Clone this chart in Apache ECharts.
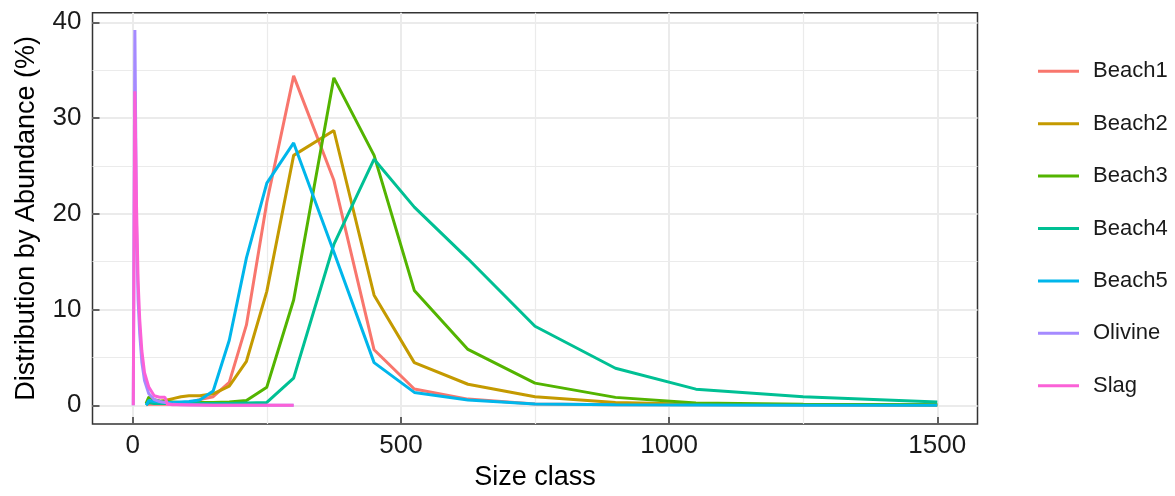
<!DOCTYPE html>
<html>
	<head>
		<meta charset="utf-8">
		<title>Size class distribution</title>
		<script src="https://cdn.jsdelivr.net/npm/echarts@6/dist/echarts.min.js"></script>
		<style>
			html, body { margin: 0; padding: 0; background: #fff; }
		</style>
	</head>
	<body>
		<div id="box" style="width: 1175px;height: 496px;"></div>
		<script>
			// size classes
			var beachSizes = [25, 30, 40, 50, 60, 75, 90, 105, 125, 150, 180, 212, 250, 300, 375, 450, 525, 625, 750, 900, 1050, 1250, 1500]
			var fineSizes = [1, 4, 7, 10, 13, 17, 22, 30, 40, 50, 60, 65, 75, 90, 105, 125, 150, 180, 212, 250, 300]

			// abundance (%)
			var beach1 = [0.05, 0.1, 0.1, 0.1, 0.1, 0.15, 0.2, 0.3, 0.6, 0.9, 2.4, 8.4, 21.2, 34.4, 23.5, 5.8, 1.7, 0.65, 0.15, 0.07, 0.05, 0.03, 0.02]
			var beach2 = [0.1, 0.3, 0.3, 0.4, 0.5, 0.7, 0.9, 1.0, 1.0, 1.2, 2.0, 4.6, 11.9, 26.1, 28.7, 11.5, 4.46, 2.2, 0.9, 0.3, 0.12, 0.08, 0.05]
			var beach3 = [0.2, 0.85, 0.6, 0.45, 0.4, 0.35, 0.3, 0.3, 0.3, 0.3, 0.35, 0.5, 1.9, 11.0, 34.2, 26.1, 12.0, 5.84, 2.32, 0.83, 0.25, 0.12, 0.05]
			var beach4 = [0.05, 0.3, 0.2, 0.2, 0.2, 0.2, 0.2, 0.2, 0.2, 0.2, 0.2, 0.25, 0.3, 2.84, 16.8, 25.7, 20.7, 15.3, 8.26, 3.87, 1.69, 0.9, 0.35]
			var beach5 = [0.0, 0.5, 0.4, 0.35, 0.3, 0.3, 0.35, 0.4, 0.55, 1.5, 6.8, 15.4, 23.2, 27.4, 16.0, 4.46, 1.35, 0.55, 0.13, 0.05, 0.03, 0.02, 0.01]
			var olivine = [0, 39.2, 19, 11, 7.5, 4.5, 2.6, 1.2, 0.6, 0.4, 0.3, 0.2, 0.1, 0.05, 0.05, 0.03, 0.02, 0.02, 0.01, 0.01, 0.01]
			var slag = [0, 32.8, 21, 13, 9, 5.7, 3.4, 1.9, 1.0, 0.85, 0.85, 0.1, 0.05, 0.05, 0.03, 0.03, 0.02, 0.02, 0.02, 0.02, 0.02]

			var names = ['Beach1', 'Beach2', 'Beach3', 'Beach4', 'Beach5', 'Olivine', 'Slag']
			var colors = ['#F8766D', '#C49A00', '#53B400', '#00C094', '#00B6EB', '#A58AFF', '#FB61D7']
			var xTicks = [0, 500, 1000, 1500]
			var xMinor = [250, 750, 1250]
			var yTicks = [0, 10, 20, 30, 40]
			var yMinor = [5, 15, 25, 35]

			var seriesX = [beachSizes, beachSizes, beachSizes, beachSizes, beachSizes, fineSizes, fineSizes]
			var seriesY = [beach1, beach2, beach3, beach4, beach5, olivine, slag]

			var font = 'Liberation Sans, Arial, Helvetica, sans-serif'

			function pairs(xs, ys) {
				return xs.map(function(x, i) { return [x, ys[i]] })
			}

			var series = names.map(function(name, i) {
				return {
					name: name,
					type: 'line',
					xAxisIndex: 0,
					yAxisIndex: 0,
					data: pairs(seriesX[i], seriesY[i]),
					symbol: 'none',
					showSymbol: false,
					lineStyle: { color: colors[i], width: 3 },
					itemStyle: { color: colors[i] }
				}
			})

			var mCharts = echarts.init(document.querySelector('#box'))
			var option = {
				animation: false,
				color: colors,
				grid: {
					left: 92.5,
					right: 197.5,
					top: 12.7,
					bottom: 70,
					show: true,
					borderColor: '#333',
					borderWidth: 1.5,
					backgroundColor: '#fff'
				},
				legend: {
					orient: 'vertical',
					left: 1033,
					top: 55.3,
					itemWidth: 41,
					itemHeight: 22,
					itemGap: 30.4,
					icon: 'path://M0,0H41V3H0Z',
					data: names,
					textStyle: {
						fontFamily: font,
						fontSize: 22,
						lineHeight: 22,
						color: '#1a1a1a',
						padding: [0, 0, 0, 9]
					}
				},
				xAxis: [{
					type: 'value',
					min: -75,
					max: 1575,
					name: 'Size class',
					nameLocation: 'middle',
					nameGap: 40,
					nameTextStyle: { fontFamily: font, fontSize: 27, color: '#000' },
					axisLine: { show: false, onZero: false },
					axisTick: { show: true, inside: true, length: 7, customValues: xTicks, lineStyle: { color: '#333', width: 1.5 } },
					axisLabel: {
						customValues: xTicks, margin: 9, fontFamily: font, fontSize: 26, color: '#1a1a1a',
						formatter: function(v) { return String(v) }
					},
					splitLine: { show: true, lineStyle: { color: '#EBEBEB', width: 2 } }
				}, {
					type: 'value',
					position: 'top',
					min: -75,
					max: 1575,
					axisLine: { show: false, onZero: false },
					axisTick: { show: false, customValues: xMinor },
					axisLabel: { show: false, customValues: xMinor },
					splitLine: { show: true, lineStyle: { color: '#EBEBEB', width: 1.2 } }
				}],
				yAxis: [{
					type: 'value',
					min: -1.95,
					max: 41.0,
					name: 'Distribution by Abundance (%)',
					nameLocation: 'middle',
					nameGap: 52,
					nameTextStyle: { fontFamily: font, fontSize: 27, color: '#000' },
					axisLine: { show: false, onZero: false },
					axisTick: { show: true, inside: true, length: 7, customValues: yTicks, lineStyle: { color: '#333', width: 1.5 } },
					axisLabel: {
						customValues: yTicks, margin: 11, fontFamily: font, fontSize: 26, color: '#1a1a1a',
						formatter: function(v) { return String(v) }
					},
					splitLine: { show: true, lineStyle: { color: '#EBEBEB', width: 2 } }
				}, {
					type: 'value',
					position: 'right',
					min: -1.95,
					max: 41.0,
					axisLine: { show: false, onZero: false },
					axisTick: { show: false, customValues: yMinor },
					axisLabel: { show: false, customValues: yMinor },
					splitLine: { show: true, lineStyle: { color: '#EBEBEB', width: 1.2 } }
				}],
				series: series
			}
			mCharts.setOption(option)
		</script>
	</body>
</html>
